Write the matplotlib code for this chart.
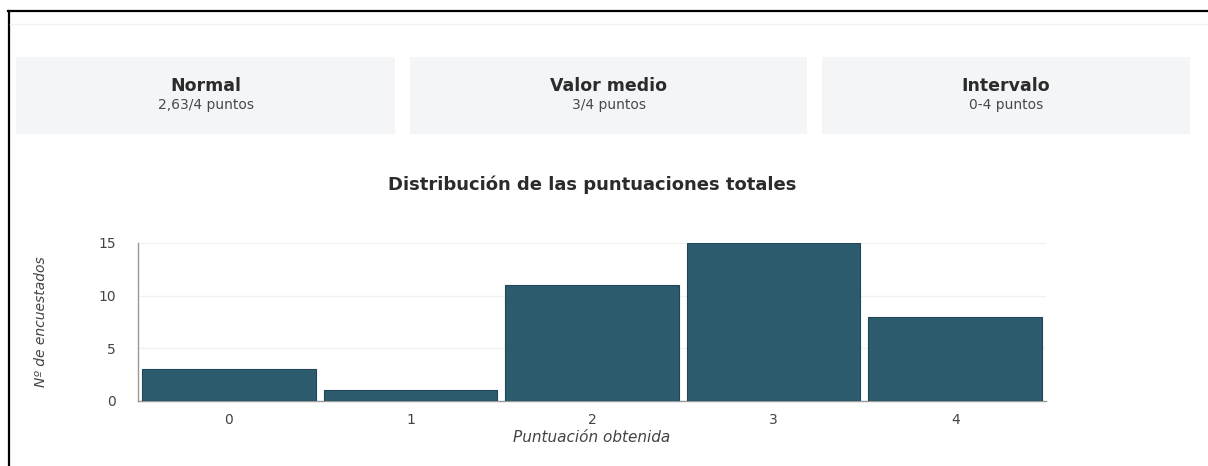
import matplotlib.pyplot as plt
from matplotlib.patches import Rectangle
from matplotlib.lines import Line2D

puntuaciones = [0, 1, 2, 3, 4]
encuestados = [3, 1, 11, 15, 8]
y_ticks = [0, 5, 10, 15]

card_titles = ["Normal", "Valor medio", "Intervalo"]
card_values = ["2,63/4 puntos", "3/4 puntos", "0-4 puntos"]

W, H = 1208, 466
fig = plt.figure(figsize=(W / 100, H / 100), dpi=100)
fig.patch.set_facecolor("white")

# frame of the screenshot
fig.add_artist(Line2D([8 / W, 1], [1 - 11 / H, 1 - 11 / H], color="black", lw=1.6))
fig.add_artist(Line2D([9 / W, 9 / W], [0, 1 - 11 / H], color="black", lw=1.6))
fig.add_artist(Line2D([10 / W, 1], [1 - 24 / H, 1 - 24 / H], color="#f0f0f0", lw=1))

# summary cards
cards_x = [(16, 395), (410, 807), (822, 1190)]
for (x0, x1), t, v in zip(cards_x, card_titles, card_values):
    fig.add_artist(Rectangle((x0 / W, 1 - 134 / H), (x1 - x0) / W, 77 / H,
                             transform=fig.transFigure, facecolor="#f3f5f7",
                             edgecolor="none", zorder=0))
    cx = (x0 + x1) / 2 / W
    fig.text(cx, 1 - 86 / H, t, ha="center", va="center", fontsize=12.5,
             fontweight="bold", color="#2b2b2b")
    fig.text(cx, 1 - 105 / H, v, ha="center", va="center", fontsize=10,
             color="#4a4a4a")

fig.text(592 / W, 1 - 185 / H, "Distribución de las puntuaciones totales",
         ha="center", va="center", fontsize=13, fontweight="bold", color="#2b2b2b")

ax = fig.add_axes([138 / W, 1 - 401 / H, (1046 - 138) / W, (401 - 243) / H])
ax.bar(puntuaciones, encuestados, width=0.955, color="#2d5b6e",
       edgecolor="#1f4657", linewidth=0.8, zorder=3)
ax.set_xlim(-0.5, 4.5)
ax.set_ylim(0, 15)
ax.set_xticks(puntuaciones)
ax.set_yticks(y_ticks)
ax.tick_params(axis="both", length=0, labelsize=10, colors="#444444")
ax.tick_params(axis="x", pad=9)
ax.tick_params(axis="y", pad=16)
ax.yaxis.grid(True, color="#f2f2f2", lw=1, zorder=0)
for s in ["top", "right"]:
    ax.spines[s].set_visible(False)
for s in ["left", "bottom"]:
    ax.spines[s].set_color("#999999")
    ax.spines[s].set_linewidth(1)

ax.set_xlabel("Puntuación obtenida", fontsize=11, style="italic",
              color="#444444", labelpad=2)
ax.set_ylabel("Nº de encuestados", fontsize=10, style="italic",
              color="#444444", labelpad=36)

fig.savefig("out.png", dpi=100)
